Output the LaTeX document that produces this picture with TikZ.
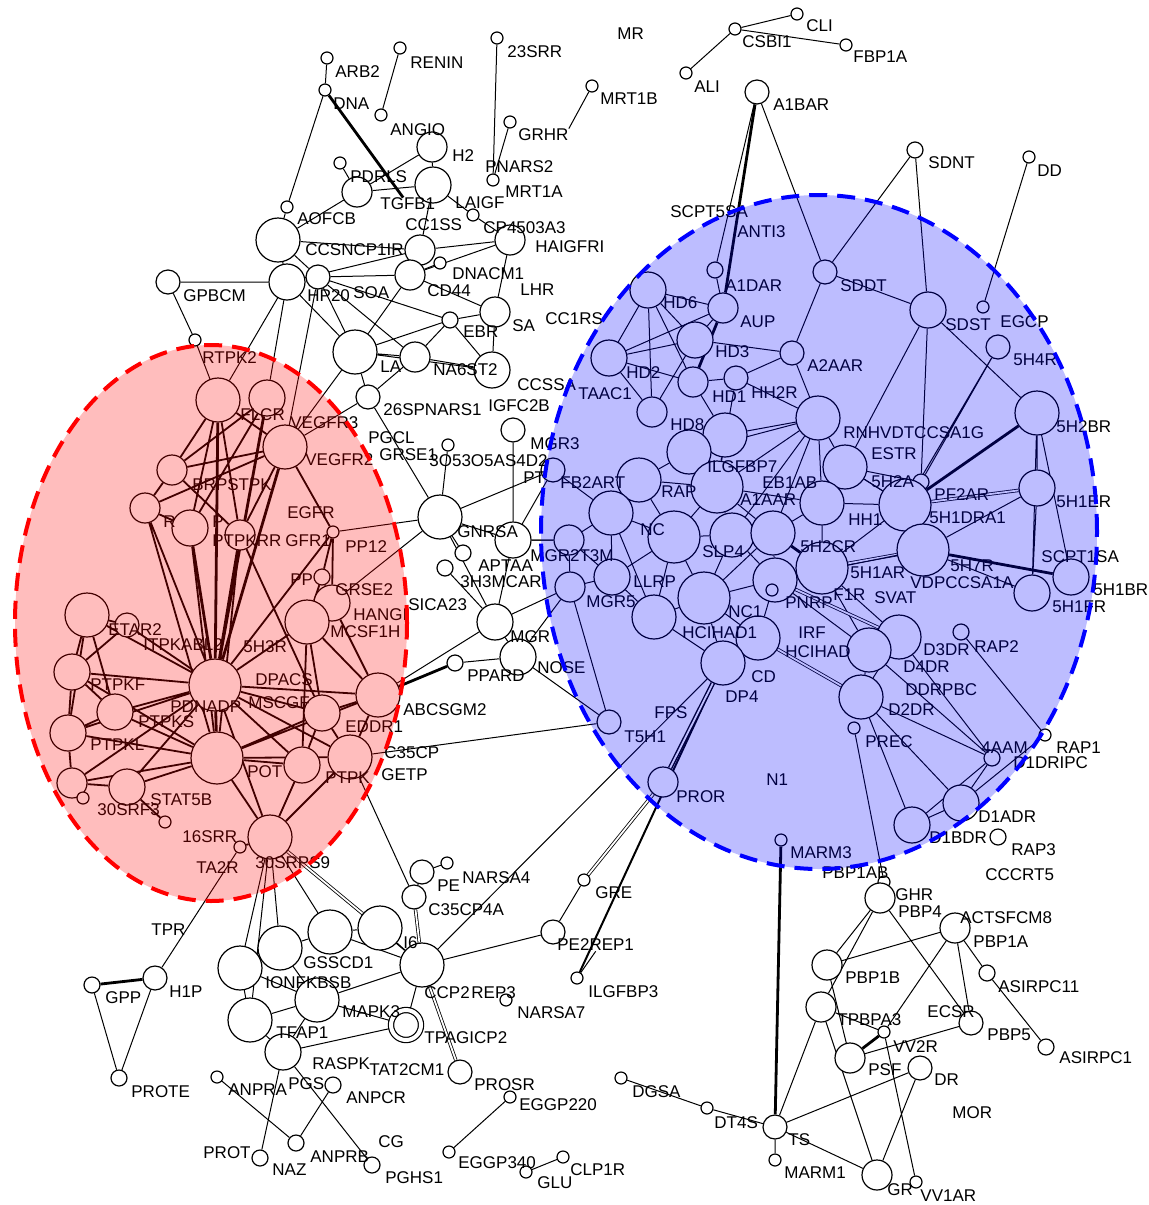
\documentclass[tikz,border=0pt]{standalone}
\usepackage{fontspec}
\setsansfont{Liberation Sans}
\usetikzlibrary{backgrounds}
\newcommand\genefont{\sffamily\fontsize{8.5pt}{9pt}\selectfont}
\tikzset{
  nd/.style={circle, draw, fill=white, inner sep=0pt, line width=0.6pt},
  hub/.style={nd, minimum size=26pt},
  big/.style={nd, minimum size=22pt},
  cir/.style={nd, minimum size=18pt},
  mid/.style={nd, minimum size=15pt},
  sm/.style={nd, minimum size=12pt},
  wee/.style={nd, minimum size=8pt},
  dot/.style={nd, minimum size=6pt},
  gene/.style={anchor=west, inner sep=0pt, font=\genefont},
  link/.style={line width=0.5pt},
  heavy/.style={line width=1.4pt},
  twin/.style={double, double distance=0.9pt, line width=0.4pt},
  redlink/.style={line width=0.9pt},
}
\begin{document}
\begin{tikzpicture}[x=0.5pt, y=-0.5pt]
\useasboundingbox (0,0) rectangle (1148,1205);

% stray nodes at the top
\node[dot] (arb2) at (327,58) {};
\node[dot] (renin) at (400,48) {};
\node[dot] (s23srr) at (497,38) {};
\node[dot] (csbi1) at (735,29) {};
\node[dot] (cli) at (797,14) {};
\node[dot] (fbp1a) at (846,45) {};
\node[dot] (ali) at (686,73) {};
\node[dot] (dna) at (325,90) {};
\node[dot] (mrt1b) at (592,86) {};
\node[sm] (a1bar) at (757,92) {};
\node[dot] (angio) at (381,115) {};
\node[dot] (grhr) at (510,122) {};
\node[wee] (sdnt) at (915,150) {};
\node[dot] (dd) at (1029,157) {};

% upper middle cluster
\node[mid] (angioc) at (432,147) {};
\node[cir] (tgfb) at (433,185) {};
\node[dot] (pdrls) at (340,163) {};
\node[mid] (pdrlsc) at (357,192) {};
\node[dot] (mrt1a) at (493,180) {};
\node[dot] (aofcb) at (287,207) {};
\node[big] (aofcbc) at (278,240) {};
\node[dot] (cp45) at (473,215) {};
\node[mid] (cp45c) at (510,240) {};
\node[mid] (ncp1) at (420,250) {};
\node[mid] (cd44) at (410,275) {};
\node[dot] (dnacm1) at (440,263) {};
\node[cir] (hp20) at (287,282) {};
\node[sm] (soa) at (318,277) {};
\node[sm] (gpbcm) at (168,282) {};
\node[mid] (sa) at (495,312) {};
\node[wee] (ebr) at (450,320) {};
\node[big] (lac) at (355,352) {};
\node[mid] (d23) at (415,357) {};
\node[cir] (na6st2) at (492,370) {};
\node[sm] (spn) at (368,397) {};
\node[dot] (rt) at (195,340) {};
\node[dot] (pgcl) at (448,445) {};
\node[sm] (mgr3) at (513,430) {};
\node[sm] (pt) at (553,470) {};
\node[big] (gnrsa) at (440,517) {};
\node[cir] (gnrsb) at (513,540) {};
\node[wee] (apta) at (463,553) {};
\node[wee] (h3m) at (445,568) {};
\node[cir] (mgr) at (495,622) {};
\node[cir] (nose) at (518,657) {};
\node[wee] (ppard) at (455,663) {};

% red group
\node[big] (rtpk2) at (218,400) {};
\node[cir] (flcr) at (267,398) {};
\node[big] (vegf) at (285,447) {};
\node[mid] (brps) at (172,470) {};
\node[mid] (rr) at (145,508) {};
\node[cir] (rc) at (190,528) {};
\node[mid] (pc) at (240,535) {};
\node[dot] (egfr) at (333,532) {};
\node[wee] (pp) at (322,577) {};
\node[cir] (grse2) at (332,603) {};
\node[big] (mcsf) at (307,622) {};
\node[big] (etar) at (87,615) {};
\node[sm] (etar2) at (127,625) {};
\node[cir] (ptpkf) at (72,672) {};
\node[hub] (nadp) at (215,685) {};
\node[big] (abcs) at (378,695) {};
\node[cir] (ptpks) at (115,712) {};
\node[cir] (mscgf) at (322,713) {};
\node[cir] (ptpkl) at (68,733) {};
\node[hub] (pot) at (217,758) {};
\node[cir] (potr) at (302,765) {};
\node[big] (ptpk) at (350,757) {};
\node[mid] (srf) at (72,783) {};
\node[dot] (srfs) at (83,798) {};
\node[cir] (stat5b) at (127,787) {};
\node[dot] (s16srr) at (165,822) {};
\node[big] (srps) at (270,837) {};
\node[dot] (ta2r) at (240,847) {};

% lower left
\node[sm] (h1p) at (155,978) {};
\node[wee] (gpp) at (92,985) {};
\node[wee] (prote) at (119,1078) {};
\node[big] (k1) at (240,968) {};
\node[big] (k2) at (280,948) {};
\node[big] (k3) at (330,932) {};
\node[big] (k4) at (380,928) {};
\node[sm] (pe) at (422,872) {};
\node[dot] (narsa4) at (447,863) {};
\node[sm] (c35) at (414,897) {};
\node[big] (ccp2) at (422,965) {};
\node[big] (ionf) at (250,1020) {};
\node[big] (mapk) at (317,1000) {};
\node[mid, double, double distance=2pt] (tpag) at (406,1025) {};
\node[cir] (tfap) at (283,1052) {};
\node[sm] (prosr) at (460,1072) {};
\node[dot] (anpra) at (217,1077) {};
\node[wee] (anpcr) at (333,1085) {};
\node[wee] (naz) at (296,1143) {};
\node[wee] (prot) at (260,1158) {};
\node[wee] (pghs1) at (372,1165) {};
\node[dot] (eggp220) at (510,1097) {};
\node[dot] (eggp340) at (449,1152) {};
\node[dot] (glu) at (526,1172) {};
\node[dot] (clp1r) at (563,1157) {};
\node[sm] (pe2rep1) at (553,932) {};
\node[dot] (gre) at (584,880) {};
\node[dot] (ilgfbp3) at (577,978) {};
\node[dot] (narsa7) at (506,1000) {};

% blue group
\node[wee] (a1dar) at (715,270) {};
\node[cir] (hd6) at (648,290) {};
\node[mid] (aup) at (723,308) {};
\node[sm] (sddt) at (825,272) {};
\node[cir] (sdst) at (928,310) {};
\node[dot] (egcp) at (983,307) {};
\node[sm] (h4r) at (998,347) {};
\node[cir] (hd3) at (695,340) {};
\node[cir] (hd2) at (609,358) {};
\node[sm] (a2aar) at (792,353) {};
\node[mid] (hd1) at (693,382) {};
\node[sm] (hh2r) at (736,378) {};
\node[mid] (taac1) at (652,412) {};
\node[big] (rnh) at (818,418) {};
\node[big] (h2br) at (1037,413) {};
\node[big] (hd8) at (725,435) {};
\node[big] (ilgf) at (689,452) {};
\node[big] (estr) at (845,467) {};
\node[big] (fb2) at (639,480) {};
\node[wee] (h2a) at (921,482) {};
\node[hub] (rap) at (717,487) {};
\node[cir] (h1er) at (1037,488) {};
\node[big] (ncc) at (611,513) {};
\node[big] (a1aar) at (822,503) {};
\node[hub] (pf2ar) at (905,505) {};
\node[hub] (slp) at (674,537) {};
\node[big] (slp4) at (732,535) {};
\node[big] (h2cr) at (773,533) {};
\node[hub] (dra1) at (923,550) {};
\node[mid] (t3m) at (569,540) {};
\node[mid] (mgr5) at (570,587) {};
\node[cir] (scpt) at (1071,577) {};
\node[cir] (h1fr) at (1032,593) {};
\node[hub] (h1ar) at (822,568) {};
\node[cir] (llrp) at (612,577) {};
\node[big] (pnrp) at (775,580) {};
\node[hub] (nc1) at (704,598) {};
\node[dot] (f1r) at (772,590) {};
\node[big] (hci1) at (654,617) {};
\node[big] (hcid) at (758,638) {};
\node[big] (d3dr) at (899,637) {};
\node[wee] (rap2) at (961,632) {};
\node[big] (d4dr) at (869,650) {};
\node[big] (dp4) at (723,663) {};
\node[big] (d2dr) at (861,697) {};
\node[sm] (t5h1) at (609,722) {};
\node[dot] (prec) at (854,728) {};
\node[dot] (rap1) at (1045,735) {};
\node[wee] (aam) at (992,758) {};
\node[mid] (pror) at (663,782) {};
\node[cir] (d1adr) at (961,803) {};
\node[cir] (d1bdr) at (912,825) {};
\node[wee] (rap3) at (998,837) {};
\node[dot] (marm3) at (781,840) {};

% lower right
\node[dot] (pbp1ab) at (884,882) {};
\node[mid] (ghr) at (880,898) {};
\node[mid] (pbp1a) at (955,928) {};
\node[mid] (pbp1b) at (827,965) {};
\node[wee] (asi11) at (987,973) {};
\node[mid] (tpbpa3) at (821,1007) {};
\node[sm] (pbp5) at (971,1023) {};
\node[dot] (vv2r) at (884,1032) {};
\node[wee] (asi1) at (1046,1047) {};
\node[mid] (psf) at (850,1058) {};
\node[sm] (dr) at (920,1068) {};
\node[dot] (dgsa) at (621,1078) {};
\node[dot] (dt4s) at (707,1108) {};
\node[sm] (ts) at (775,1127) {};
\node[dot] (marm1) at (775,1160) {};
\node[mid] (gr) at (877,1175) {};
\node[dot] (vv1ar) at (916,1182) {};

% labels
\node[gene] (l-arb2) at (335,72) {ARB2};
\node[gene] (l-renin) at (410,63) {RENIN};
\node[gene] (l-23srr) at (507,52) {23SRR};
\node[gene] (l-mr) at (617,34) {MR};
\node[gene] (l-csbi1) at (742,42) {CSBI1};
\node[gene] (l-cli) at (806,26) {CLI};
\node[gene] (l-fbp1a) at (853,57) {FBP1A};
\node[gene] (l-ali) at (694,87) {ALI};
\node[gene] (l-dna) at (333,104) {DNA};
\node[gene] (l-mrt1b) at (600,99) {MRT1B};
\node[gene] (l-a1bar) at (773,105) {A1BAR};
\node[gene] (l-angio) at (390,130) {ANGIO};
\node[gene] (l-grhr) at (518,135) {GRHR};
\node[gene] (l-sdnt) at (928,163) {SDNT};
\node[gene] (l-dd) at (1037,171) {DD};
\node[gene] (l-h2) at (452,156) {H2};
\node[gene] (l-pnars2) at (485,167) {PNARS2};
\node[gene] (l-pdrls) at (350,177) {PDRLS};
\node[gene] (l-mrt1a) at (505,192) {MRT1A};
\node[gene] (l-tgfb1) at (380,204) {TGFB1};
\node[gene] (l-laigf) at (455,203) {LAIGF};
\node[gene] (l-aofcb) at (297,219) {AOFCB};
\node[gene] (l-cc1ss) at (405,225) {CC1SS};
\node[gene] (l-cp4503a3) at (483,228) {CP4503A3};
\node[gene] (l-haigfri) at (535,247) {HAIGFRI};
\node[gene] (l-ncp1ir) at (305,250) {CCSNCP1IR};
\node[gene] (l-scpt5sa) at (670,212) {SCPT5SA};
\node[gene] (l-anti3) at (737,232) {ANTI3};
\node[gene] (l-dnacm1) at (452,274) {DNACM1};
\node[gene] (l-gpbcm) at (183,296) {GPBCM};
\node[gene] (l-hp20) at (307,296) {HP20};
\node[gene] (l-soa) at (353,293) {SOA};
\node[gene] (l-cd44) at (427,291) {CD44};
\node[gene] (l-lhr) at (520,290) {LHR};
\node[gene] (l-sa) at (512,326) {SA};
\node[gene] (l-cc1rs) at (545,319) {CC1RS};
\node[gene] (l-a1dar) at (725,286) {A1DAR};
\node[gene] (l-hd6) at (663,303) {HD6};
\node[gene] (l-sddt) at (840,286) {SDDT};
\node[gene] (l-aup) at (740,322) {AUP};
\node[gene] (l-sdst) at (945,325) {SDST};
\node[gene] (l-egcp) at (1000,322) {EGCP};
\node[gene] (l-ebr) at (463,332) {EBR};
\node[gene] (l-na6st2) at (433,370) {NA6ST2};
\node[gene] (l-la) at (380,367) {LA};
\node[gene] (l-hd3) at (715,352) {HD3};
\node[gene] (l-5h4r) at (1013,360) {5H4R};
\node[gene] (l-rtpk2) at (202,358) {RTPK2};
\node[gene] (l-a2aar) at (807,366) {A2AAR};
\node[gene] (l-hd2) at (626,373) {HD2};
\node[gene] (l-ccssa) at (517,385) {CCSSA};
\node[gene] (l-taac1) at (578,394) {TAAC1};
\node[gene] (l-hd1) at (712,397) {HD1};
\node[gene] (l-hh2r) at (751,393) {HH2R};
\node[gene] (l-26spnars1) at (383,410) {26SPNARS1};
\node[gene] (l-igfc2b) at (488,406) {IGFC2B};
\node[gene] (l-flcr) at (240,415) {FLCR};
\node[gene] (l-vegfr3) at (290,423) {VEGFR3};
\node[gene] (l-hd8) at (670,425) {HD8};
\node[gene] (l-5h2br) at (1056,427) {5H2BR};
\node[gene] (l-rnhvdt) at (843,433) {RNHVDTCCSA1G};
\node[gene] (l-pgcl) at (368,438) {PGCL};
\node[gene] (l-mgr3) at (530,444) {MGR3};
\node[gene] (l-estr) at (871,454) {ESTR};
\node[gene] (l-grse1) at (379,455) {GRSE1};
\node[gene] (l-3o53o5) at (429,461) {3O53O5AS4D2};
\node[gene] (l-vegfr2) at (305,460) {VEGFR2};
\node[gene] (l-ilgfbp7) at (707,467) {ILGFBP7};
\node[gene] (l-pt) at (523,478) {PT};
\node[gene] (l-fb2art) at (560,483) {FB2ART};
\node[gene] (l-eb1ab) at (762,483) {EB1AB};
\node[gene] (l-5h2a) at (871,482) {5H2A};
\node[gene] (l-brpstpk) at (192,485) {BRPSTPK};
\node[gene] (l-rap) at (661,492) {RAP};
\node[gene] (l-pf2ar) at (934,495) {PF2AR};
\node[gene] (l-a1aar) at (740,500) {A1AAR};
\node[gene] (l-5h1er) at (1056,502) {5H1ER};
\node[gene] (l-egfr) at (287,513) {EGFR};
\node[gene] (l-hh1) at (848,520) {HH1};
\node[gene] (l-5h1dra1) at (929,518) {5H1DRA1};
\node[gene] (l-r) at (163,522) {R};
\node[gene] (l-p) at (212,522) {P};
\node[gene] (l-nc) at (640,530) {NC};
\node[gene] (l-gnrsa) at (457,532) {GNRSA};
\node[gene] (l-ptpkrr) at (212,541) {PTPKRR};
\node[gene] (l-gfr1) at (285,541) {GFR1};
\node[gene] (l-pp12) at (345,547) {PP12};
\node[gene] (l-5h2cr) at (800,547) {5H2CR};
\node[gene] (l-slp4) at (702,552) {SLP4};
\node[gene] (l-mgr2t3m) at (530,556) {MGR2T3M};
\node[gene] (l-scpt1sa) at (1041,557) {SCPT1SA};
\node[gene] (l-aptaa) at (478,566) {APTAA};
\node[gene] (l-5h7r) at (950,566) {5H7R};
\node[gene] (l-5h1ar) at (850,573) {5H1AR};
\node[gene] (l-pp) at (290,580) {PP};
\node[gene] (l-llrp) at (633,582) {LLRP};
\node[gene] (l-3h3mcar) at (460,582) {3H3MCAR};
\node[gene] (l-vdpccsa1a) at (910,583) {VDPCCSA1A};
\node[gene] (l-grse2) at (335,590) {GRSE2};
\node[gene] (l-5h1br) at (1093,590) {5H1BR};
\node[gene] (l-f1r) at (833,595) {F1R};
\node[gene] (l-svat) at (874,598) {SVAT};
\node[gene] (l-mgr5) at (586,602) {MGR5};
\node[gene] (l-pnrp) at (785,603) {PNRP};
\node[gene] (l-sica23) at (408,605) {SICA23};
\node[gene] (l-5h1fr) at (1052,607) {5H1FR};
\node[gene] (l-nc1) at (728,612) {NC1};
\node[gene] (l-hangi) at (353,615) {HANGI};
\node[gene] (l-etar2) at (108,630) {ETAR2};
\node[gene] (l-mcsf1h) at (330,632) {MCSF1H};
\node[gene] (l-hcihad1) at (682,633) {HCIHAD1};
\node[gene] (l-irf) at (798,633) {IRF};
\node[gene] (l-mgr) at (510,637) {MGR};
\node[gene] (l-itpkabl2) at (143,645) {ITPKABL2};
\node[gene] (l-5h3r) at (243,647) {5H3R};
\node[gene] (l-rap2) at (974,647) {RAP2};
\node[gene] (l-hcihad) at (785,652) {HCIHAD};
\node[gene] (l-d3dr) at (923,650) {D3DR};
\node[gene] (l-d4dr) at (903,667) {D4DR};
\node[gene] (l-nose) at (537,668) {NOSE};
\node[gene] (l-ppard) at (467,676) {PPARD};
\node[gene] (l-cd) at (751,677) {CD};
\node[gene] (l-dpacs) at (255,680) {DPACS};
\node[gene] (l-ptpkf) at (90,685) {PTPKF};
\node[gene] (l-ddrpbc) at (905,690) {DDRPBC};
\node[gene] (l-dp4) at (725,697) {DP4};
\node[gene] (l-mscgf) at (248,703) {MSCGF};
\node[gene] (l-pdnadp) at (170,707) {PDNADP};
\node[gene] (l-abcsgm2) at (403,710) {ABCSGM2};
\node[gene] (l-d2dr) at (888,710) {D2DR};
\node[gene] (l-fps) at (654,713) {FPS};
\node[gene] (l-ptpks) at (138,722) {PTPKS};
\node[gene] (l-eddr1) at (345,727) {EDDR1};
\node[gene] (l-t5h1) at (624,737) {T5H1};
\node[gene] (l-prec) at (865,742) {PREC};
\node[gene] (l-ptpkl) at (90,745) {PTPKL};
\node[gene] (l-4aam) at (981,748) {4AAM};
\node[gene] (l-rap1) at (1056,748) {RAP1};
\node[gene] (l-c35cp) at (384,753) {C35CP};
\node[gene] (l-d1dripc) at (1013,763) {D1DRIPC};
\node[gene] (l-pot) at (247,772) {POT};
\node[gene] (l-getp) at (381,775) {GETP};
\node[gene] (l-ptpk) at (325,778) {PTPK};
\node[gene] (l-n1) at (766,780) {N1};
\node[gene] (l-pror) at (676,797) {PROR};
\node[gene] (l-stat5b) at (150,800) {STAT5B};
\node[gene] (l-30srf3) at (97,810) {30SRF3};
\node[gene] (l-d1adr) at (978,817) {D1ADR};
\node[gene] (l-16srr) at (182,837) {16SRR};
\node[gene] (l-d1bdr) at (929,838) {D1BDR};
\node[gene] (l-rap3) at (1011,850) {RAP3};
\node[gene] (l-marm3) at (790,853) {MARM3};
\node[gene] (l-30srps9) at (255,863) {30SRPS9};
\node[gene] (l-ta2r) at (196,868) {TA2R};
\node[gene] (l-pbp1ab) at (822,873) {PBP1AB};
\node[gene] (l-cccrt5) at (985,875) {CCCRT5};
\node[gene] (l-narsa4) at (462,878) {NARSA4};
\node[gene] (l-pe) at (437,886) {PE};
\node[gene] (l-gre) at (595,893) {GRE};
\node[gene] (l-ghr) at (895,895) {GHR};
\node[gene] (l-c35cp4a) at (428,910) {C35CP4A};
\node[gene] (l-pbp4) at (898,912) {PBP4};
\node[gene] (l-actsfcm8) at (960,918) {ACTSFCM8};
\node[gene] (l-tpr) at (151,930) {TPR};
\node[gene] (l-pbp1a) at (973,942) {PBP1A};
\node[gene] (l-i6) at (403,943) {I6};
\node[gene] (l-pe2rep1) at (557,945) {PE2REP1};
\node[gene] (l-gsscd1) at (303,963) {GSSCD1};
\node[gene] (l-pbp1b) at (845,978) {PBP1B};
\node[gene] (l-ionfkbsb) at (265,983) {IONFKBSB};
\node[gene] (l-asirpc11) at (998,987) {ASIRPC11};
\node[gene] (l-ilgfbp3) at (588,992) {ILGFBP3};
\node[gene] (l-h1p) at (169,992) {H1P};
\node[gene] (l-ccp2) at (424,993) {CCP2};
\node[gene] (l-rep3) at (471,993) {REP3};
\node[gene] (l-gpp) at (105,998) {GPP};
\node[gene] (l-mapk3) at (342,1012) {MAPK3};
\node[gene] (l-narsa7) at (517,1013) {NARSA7};
\node[gene] (l-ecsr) at (927,1012) {ECSR};
\node[gene] (l-tpbpa3) at (837,1020) {TPBPA3};
\node[gene] (l-tfap1) at (276,1033) {TFAP1};
\node[gene] (l-pbp5) at (987,1035) {PBP5};
\node[gene] (l-tpagicp2) at (424,1038) {TPAGICP2};
\node[gene] (l-vv2r) at (893,1047) {VV2R};
\node[gene] (l-asirpc1) at (1059,1058) {ASIRPC1};
\node[gene] (l-raspk) at (312,1064) {RASPK};
\node[gene] (l-tat2cm1) at (369,1070) {TAT2CM1};
\node[gene] (l-psf) at (868,1070) {PSF};
\node[gene] (l-dr) at (934,1080) {DR};
\node[gene] (l-pgs) at (288,1084) {PGS};
\node[gene] (l-prosr) at (474,1085) {PROSR};
\node[gene] (l-anpra) at (228,1090) {ANPRA};
\node[gene] (l-dgsa) at (632,1092) {DGSA};
\node[gene] (l-prote) at (131,1092) {PROTE};
\node[gene] (l-anpcr) at (346,1098) {ANPCR};
\node[gene] (l-eggp220) at (519,1105) {EGGP220};
\node[gene] (l-mor) at (952,1113) {MOR};
\node[gene] (l-dt4s) at (714,1123) {DT4S};
\node[gene] (l-ts) at (788,1140) {TS};
\node[gene] (l-cg) at (378,1142) {CG};
\node[gene] (l-prot) at (203,1153) {PROT};
\node[gene] (l-anprb) at (310,1157) {ANPRB};
\node[gene] (l-eggp340) at (458,1163) {EGGP340};
\node[gene] (l-naz) at (272,1170) {NAZ};
\node[gene] (l-clp1r) at (570,1170) {CLP1R};
\node[gene] (l-marm1) at (784,1173) {MARM1};
\node[gene] (l-pghs1) at (385,1178) {PGHS1};
\node[gene] (l-glu) at (537,1183) {GLU};
\node[gene] (l-gr) at (887,1190) {GR};
\node[gene] (l-vv1ar) at (920,1196) {VV1AR};

\begin{scope}[on background layer]
% top
\draw[link] (ali) -- (csbi1) -- (cli);
\draw[link] (csbi1) -- (fbp1a);
\draw[link] (arb2) -- (dna) -- (aofcb);
\draw[link] (renin) -- (angio);
\draw[link] (s23srr) -- (mrt1a);
\draw[link] (grhr) -- (mrt1a);
\draw[link] (mrt1b) -- (l-grhr.north east);
\draw[heavy] (dna) -- (l-tgfb1);
\draw[link] (angioc) -- (tgfb) (angioc) -- (pdrlsc) (pdrls) -- (pdrlsc) (pdrlsc) -- (aofcbc) (pdrlsc) -- (tgfb);
\draw[link] (tgfb) -- (ncp1) (tgfb) -- (cp45) (cp45) -- (cp45c) (ncp1) -- (cp45c) (ncp1) -- (cd44) (cd44) -- (dnacm1) (cd44) -- (sa);
\draw[link] (aofcb) -- (aofcbc) (aofcbc) -- (hp20) (aofcbc) -- (soa) (aofcbc) -- (ncp1) (hp20) -- (gpbcm) (hp20) -- (lac) (hp20) -- (ncp1);
\draw[link] (soa) -- (lac) (soa) -- (cd44) (soa) -- (ebr) (soa) -- (d23) (lac) -- (d23) (lac) -- (ebr) (lac) -- (cd44) (lac) -- (na6st2);
\draw[link] (d23) -- (na6st2) (d23) -- (ebr) (ebr) -- (sa) (ebr) -- (na6st2) (sa) -- (na6st2) (sa) -- (cp45c) (cd44) -- (cp45c) (lac) -- (spn) (spn) -- (d23);
\draw[link] (gpbcm) -- (rt) (rt) -- (rtpk2) (hp20) -- (rtpk2) (hp20) -- (flcr) (soa) -- (vegf) (lac) -- (vegf) (spn) -- (vegf);
% middle
\draw[link] (gnrsa) -- (pgcl) (gnrsa) -- (spn) (gnrsa) -- (egfr) (gnrsa) -- (grse2) (gnrsa) -- (gnrsb) (gnrsa) -- (apta) (gnrsa) -- (mgr);
\draw[link] (pt) -- (gnrsb) (pt) -- (gnrsa) (mgr3) -- (gnrsb) (gnrsb) -- (t3m) (gnrsb) -- (mgr) (h3m) -- (mgr) (mgr) -- (nose) (mgr) -- (mgr5) (nose) -- (mgr5);
\draw[link] (ppard) -- (nose) (abcs) -- (mgr) (nose) -- (t5h1) (mgr5) -- (t5h1) (ptpk) -- (t5h1) (pt) -- (ncc) (t3m) -- (gnrsb);
\draw[heavy] (abcs) -- (ppard);
% red group
\draw[redlink] (rtpk2) -- (brps) (rtpk2) -- (pc) (rtpk2) -- (rc) (rtpk2) -- (vegf) (flcr) -- (brps) (flcr) -- (rc) (vegf) -- (brps) (vegf) -- (rr) (vegf) -- (pc) (vegf) -- (egfr);
\draw[heavy] (rtpk2) -- (nadp) (flcr) -- (nadp) (vegf) -- (nadp) (rc) -- (nadp) (pc) -- (nadp) (nadp) -- (pot);
\draw[redlink] (brps) -- (rr) (brps) -- (pc) (rr) -- (rc) (rr) -- (pot) (rr) -- (nadp) (rc) -- (pot) (pc) -- (pot) (pc) -- (mscgf);
\draw[redlink] (egfr) -- (nadp) (egfr) -- (pp) (egfr) -- (grse2) (pp) -- (mcsf) (pp) -- (grse2) (grse2) -- (mcsf) (grse2) -- (abcs) (mcsf) -- (nadp) (mcsf) -- (abcs) (mcsf) -- (mscgf) (mcsf) -- (potr);
\draw[redlink] (etar) -- (ptpkf) (etar) -- (ptpkl) (etar) -- (nadp) (etar) -- (etar2) (etar) -- (ptpks) (etar2) -- (nadp) (etar2) -- (ptpkf);
\draw[redlink] (ptpkf) -- (ptpks) (ptpkf) -- (ptpkl) (ptpkf) -- (nadp) (ptpkf) -- (pot) (ptpks) -- (nadp) (ptpks) -- (pot) (ptpks) -- (ptpkl) (ptpkl) -- (nadp) (ptpkl) -- (pot) (ptpkl) -- (srf);
\draw[redlink] (srf) -- (srfs) (srf) -- (stat5b) (srf) -- (pot) (srf) -- (nadp) (stat5b) -- (pot) (stat5b) -- (nadp) (stat5b) -- (s16srr);
\draw[redlink] (nadp) -- (mscgf) (nadp) -- (potr) (nadp) -- (ptpk) (nadp) -- (abcs) (pot) -- (mscgf) (pot) -- (potr) (pot) -- (ptpk) (pot) -- (srps) (pot) -- (abcs);
\draw[redlink] (potr) -- (srps) (potr) -- (mscgf) (ptpk) -- (srps) (ptpk) -- (mscgf) (ptpk) -- (abcs) (mscgf) -- (abcs) (srps) -- (ta2r) (srps) -- (nadp);
% lower left
\draw[link] (ta2r) -- (h1p) (h1p) -- (prote) (gpp) -- (prote);
\draw[heavy] (h1p) -- (gpp);
\draw[link] (srps) -- (k1) (srps) -- (k2) (srps) -- (k3) (srps) -- (ionf) (srps) -- (ccp2) (ptpk) -- (c35);
\draw[twin] (srps) -- (k4);
\draw[link] (k1) -- (k2) (k2) -- (k3) (k3) -- (k4) (k4) -- (ccp2) (k3) -- (ccp2) (k2) -- (mapk) (k1) -- (ionf) (k1) -- (mapk) (ionf) -- (mapk) (ionf) -- (tfap);
\draw[link] (mapk) -- (tpag) (mapk) -- (ccp2) (tpag) -- (ccp2) (tfap) -- (tpag) (tfap) -- (mapk) (pe) -- (c35) (narsa4) -- (pe) (ccp2) -- (pe2rep1) (ccp2) -- (dp4);
\draw[twin] (c35) -- (ccp2) (ccp2) -- (prosr);
\draw[link] (anpra) -- (naz) (anpcr) -- (naz) (prot) -- (tfap) (tfap) -- (pghs1) (eggp340) -- (eggp220) (glu) -- (clp1r);
\draw[link] (pe2rep1) -- (gre) (ilgfbp3) -- (l-pe2rep1.south);
\draw[twin] (gre) -- (pror);
\draw[line width=1pt] (dp4) -- (ilgfbp3);
\draw[twin, line width=0.7pt] (dp4) -- (pror);
% blue group
\draw[link] (a1bar) -- (a1dar) (a1bar) -- (sddt) (sdnt) -- (sddt) (sdnt) -- (sdst) (dd) -- (egcp) (sddt) -- (sdst) (sddt) -- (a2aar);
\draw[heavy] (a1bar) -- (aup);
\draw[link] (sdst) -- (h2br) (sdst) -- (estr) (sdst) -- (h2a) (h4r) -- (h2a) (h4r) -- (pf2ar);
\draw[link] (h2br) -- (h1er) (h2br) -- (scpt) (h2br) -- (h1fr) (h1er) -- (h1fr) (h1er) -- (dra1) (dra1) -- (h1fr) (dra1) -- (pf2ar);
\draw[heavy] (h2br) -- (pf2ar) (dra1) -- (scpt);
\draw[twin] (h1er) -- (pf2ar) (dra1) -- (h1ar);
\draw[link] (pf2ar) -- (h2a) (pf2ar) -- (estr) (pf2ar) -- (a1aar) (pf2ar) -- (h1ar) (dra1) -- (pnrp);
\draw[link] (hd6) -- (hd2) (hd6) -- (hd3) (hd6) -- (hd1) (hd6) -- (taac1) (hd6) -- (aup) (a1dar) -- (aup) (aup) -- (hd3) (aup) -- (hd2);
\draw[heavy] (aup) -- (hd1);
\draw[link] (hd3) -- (hd2) (hd3) -- (taac1) (hd2) -- (taac1) (hd2) -- (hd1) (hd1) -- (hd8) (hd1) -- (hh2r) (hh2r) -- (rnh) (hh2r) -- (rap);
\draw[link] (a2aar) -- (hh2r) (a2aar) -- (rnh) (a2aar) -- (hd3);
\draw[link] (rnh) -- (hd8) (rnh) -- (ilgf) (rnh) -- (rap) (rnh) -- (a1aar) (rnh) -- (estr) (rnh) -- (h2cr) (rnh) -- (slp4);
\draw[link] (hd8) -- (ilgf) (hd8) -- (rap) (ilgf) -- (fb2) (ilgf) -- (rap) (fb2) -- (ncc) (fb2) -- (slp) (fb2) -- (rap);
\draw[link] (ncc) -- (slp) (ncc) -- (t3m) (ncc) -- (llrp) (ncc) -- (hci1) (rap) -- (slp) (rap) -- (slp4) (rap) -- (h2cr) (rap) -- (a1aar);
\draw[link] (slp) -- (slp4) (slp) -- (nc1) (slp) -- (llrp) (slp) -- (hci1) (slp4) -- (h2cr) (slp4) -- (nc1) (slp4) -- (pnrp);
\draw[heavy] (h2cr) -- (h1ar);
\draw[link] (h2cr) -- (a1aar) (h2cr) -- (pnrp) (h2cr) -- (nc1) (a1aar) -- (estr) (a1aar) -- (h1ar) (estr) -- (h2a) (estr) -- (pf2ar);
\draw[link] (h1ar) -- (pnrp) (h1ar) -- (d3dr) (h1ar) -- (d4dr) (pnrp) -- (nc1) (pnrp) -- (d4dr) (pnrp) -- (hcid) (pnrp) -- (f1r);
\draw[twin] (pnrp) -- (d3dr) (hcid) -- (d2dr);
\draw[link] (nc1) -- (hci1) (nc1) -- (hcid) (nc1) -- (dp4) (hci1) -- (dp4) (hcid) -- (dp4) (llrp) -- (mgr5) (llrp) -- (hci1) (t3m) -- (mgr5) (t3m) -- (llrp);
\draw[link] (d3dr) -- (d4dr) (d4dr) -- (d2dr) (d3dr) -- (d2dr) (rap2) -- (rap1) (d2dr) -- (d1bdr) (d2dr) -- (d1adr) (d2dr) -- (aam) (d4dr) -- (aam) (d3dr) -- (aam);
\draw[link] (aam) -- (d1bdr) (aam) -- (d1adr) (d1adr) -- (d1bdr) (rap1) -- (d1adr) (prec) -- (pbp1ab);
\draw[heavy] (marm3) -- (ts);
% lower right
\draw[link] (pbp1ab) -- (ghr) (ghr) -- (pbp1b) (ghr) -- (tpbpa3) (ghr) -- (pbp5) (pbp1b) -- (pbp1a) (pbp1a) -- (vv2r) (pbp1a) -- (pbp5) (pbp1a) -- (asi11) (asi11) -- (asi1);
\draw[link] (pbp1b) -- (psf) (tpbpa3) -- (vv2r) (pbp5) -- (psf) (tpbpa3) -- (ts) (tpbpa3) -- (gr) (ts) -- (dr) (ts) -- (gr) (ts) -- (marm1) (ts) -- (dt4s) (dt4s) -- (dgsa) (dr) -- (gr) (vv2r) -- (vv1ar);
\draw[heavy] (psf) -- (vv2r);
\end{scope}

% highlighted groups
\draw[red, line width=2pt, dash pattern=on 9pt off 5pt, fill=red, fill opacity=0.26] (211,623) ellipse [x radius=98pt, y radius=139pt];
\draw[blue, line width=2pt, dash pattern=on 9pt off 5pt, fill=blue, fill opacity=0.26] (819,532) ellipse [x radius=139pt, y radius=168.5pt];
\end{tikzpicture}
\end{document}
